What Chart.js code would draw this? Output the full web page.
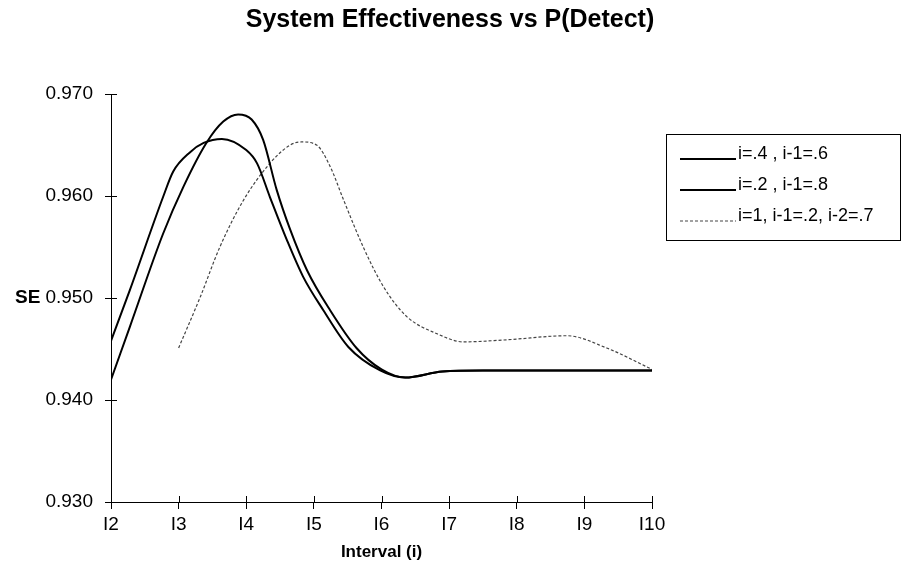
<!DOCTYPE html>
<html>
<head>
<meta charset="utf-8">
<script src="https://cdn.jsdelivr.net/npm/chart.js@4"></script>
<style>
  html, body { margin: 0; padding: 0; background: #fff; }
  #wrap { width: 903px; height: 571px; }
</style>
</head>
<body>
<div id="wrap"><canvas id="seChart" width="903" height="571"></canvas></div>
<script>
// Données
const seriesNames = ['i=.4 , i-1=.6', 'i=.2 , i-1=.8', 'i=1, i-1=.2, i-2=.7'];

const xA = [2, 2.28, 2.77, 2.92, 3.17, 3.37, 3.64, 4.0, 4.16, 4.35, 4.6, 4.84, 5.14, 5.51, 5.98, 6.35, 6.9, 7.5, 8.5, 10];
const yA = [0.9458, 0.9508, 0.9599, 0.9624, 0.9643, 0.9652, 0.9656, 0.9645, 0.9632, 0.9599, 0.9557, 0.9521, 0.9488, 0.9452, 0.9429, 0.9422, 0.9428, 0.9429, 0.9429, 0.9429];

const xB = [2, 2.28, 2.77, 3.07, 3.41, 3.66, 3.88, 4.08, 4.25, 4.45, 4.65, 4.9, 5.24, 5.63, 6.0, 6.35, 6.9, 7.5, 8.5, 10];
const yB = [0.9420, 0.9472, 0.9563, 0.9609, 0.9652, 0.9673, 0.9680, 0.9675, 0.9655, 0.9606, 0.9567, 0.9527, 0.9488, 0.9451, 0.9430, 0.9422, 0.9428, 0.9429, 0.9429, 0.9429];

const xC = [3.0, 3.32, 3.61, 3.96, 4.35, 4.65, 4.82, 5.04, 5.24, 5.44, 5.73, 6.03, 6.37, 6.82, 7.21, 7.85, 8.74, 9.33, 10];
const yC = [0.9451, 0.9501, 0.9550, 0.9596, 0.9632, 0.9650, 0.9653, 0.9650, 0.9629, 0.9596, 0.9550, 0.9511, 0.9482, 0.9465, 0.9457, 0.9459, 0.9463, 0.9451, 0.9430];

const xTicks = [2, 3, 4, 5, 6, 7, 8, 9, 10];
const xTickLabels = ['I2', 'I3', 'I4', 'I5', 'I6', 'I7', 'I8', 'I9', 'I10'];
const yTicks = [0.93, 0.94, 0.95, 0.96, 0.97];

const FONT = 'Arial, "Liberation Sans", sans-serif';

function toPoints(xs, ys) {
    return xs.map((x, i) => ({ x: x, y: ys[i] }));
}

// Petits traits de graduation côté intérieur + titres + légende
const decorPlugin = {
    id: 'decor',
    afterDraw(chart) {
        const ctx = chart.ctx;
        const xs = chart.scales.x, ys = chart.scales.y;
        const area = chart.chartArea;
        ctx.save();
        ctx.strokeStyle = '#000';
        ctx.lineWidth = 1;
        ctx.beginPath();
        xTicks.forEach(v => {
            const px = Math.round(xs.getPixelForValue(v)) + 0.5;
            ctx.moveTo(px, area.bottom);
            ctx.lineTo(px, area.bottom - 6);
        });
        yTicks.forEach(v => {
            const py = Math.round(ys.getPixelForValue(v)) + 0.5;
            ctx.moveTo(area.left, py);
            ctx.lineTo(area.left + 6, py);
        });
        ctx.stroke();

        // titre
        ctx.fillStyle = '#000';
        ctx.font = 'bold 25px ' + FONT;
        ctx.textAlign = 'center';
        ctx.textBaseline = 'alphabetic';
        ctx.fillText('System Effectiveness vs P(Detect)', 450, 27);

        // titre axe X
        ctx.font = 'bold 17px ' + FONT;
        ctx.fillText('Interval (i)', (area.left + area.right) / 2, 557);

        // "SE" à gauche de 0.950
        ctx.font = 'bold 19px ' + FONT;
        ctx.textAlign = 'left';
        ctx.textBaseline = 'middle';
        ctx.fillText('SE', 15, ys.getPixelForValue(0.95));

        // légende
        const lx = 666, ly = 134, lw = 234, lh = 106;
        ctx.strokeRect(lx + 0.5, ly + 0.5, lw, lh);
        ctx.font = '18px ' + FONT;
        ctx.textBaseline = 'alphabetic';
        chart.data.datasets.forEach((ds, i) => {
            const base = ly + 25 + i * 31;
            ctx.save();
            ctx.strokeStyle = ds.borderColor;
            ctx.lineWidth = ds.borderWidth;
            ctx.setLineDash(ds.borderDash || []);
            ctx.beginPath();
            ctx.moveTo(680, base);
            ctx.lineTo(736, base);
            ctx.stroke();
            ctx.restore();
            ctx.fillStyle = '#000';
            ctx.fillText(ds.label, 738, base);
        });
        ctx.restore();
    }
};

const ctx = document.getElementById('seChart').getContext('2d');
new Chart(ctx, {
    type: 'line',
    data: {
        datasets: [{
            label: seriesNames[0],
            data: toPoints(xA, yA),
            borderColor: '#000',
            borderWidth: 2
        }, {
            label: seriesNames[1],
            data: toPoints(xB, yB),
            borderColor: '#000',
            borderWidth: 2
        }, {
            label: seriesNames[2],
            data: toPoints(xC, yC),
            borderColor: '#444',
            borderWidth: 1.2,
            borderDash: [3, 2]
        }]
    },
    options: {
        responsive: false,
        animation: false,
        devicePixelRatio: 1,
        elements: {
            point: { radius: 0 },
            line: { cubicInterpolationMode: 'monotone', fill: false }
        },
        layout: {
            padding: { left: 0, right: 251, top: 94, bottom: 0 }
        },
        plugins: {
            legend: { display: false },
            title: { display: false },
            tooltip: { enabled: false }
        },
        scales: {
            x: {
                type: 'linear',
                min: 2,
                max: 10,
                afterFit: s => { s.height = 69; },
                afterBuildTicks: s => { s.ticks = xTicks.map(v => ({ value: v })); },
                ticks: {
                    autoSkip: false,
                    maxRotation: 0,
                    padding: 4,
                    color: '#000',
                    font: { family: FONT, size: 19 },
                    callback: v => xTickLabels[xTicks.indexOf(v)]
                },
                grid: { drawOnChartArea: false, tickLength: 7, color: '#000' },
                border: { color: '#000', width: 1 }
            },
            y: {
                min: 0.93,
                max: 0.97,
                afterFit: s => { s.width = 111; },
                afterBuildTicks: s => { s.ticks = yTicks.map(v => ({ value: v })); },
                ticks: {
                    padding: 12,
                    color: '#000',
                    font: { family: FONT, size: 19 },
                    callback: v => v.toFixed(3)
                },
                grid: { drawOnChartArea: false, tickLength: 6, color: '#000' },
                border: { color: '#000', width: 1 }
            }
        }
    },
    plugins: [decorPlugin]
});
</script>
</body>
</html>
